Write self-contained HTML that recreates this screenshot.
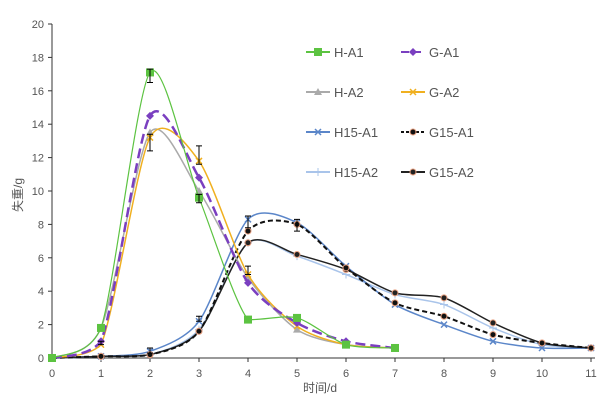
<!DOCTYPE html>
<html><head><meta charset="utf-8"><style>body{margin:0;background:#fff}svg{display:block}text{font-family:"Liberation Sans","Noto Sans CJK SC",sans-serif;font-size:11px;fill:#555}</style></head>
<body>
<svg id="s" width="600" height="400" xmlns="http://www.w3.org/2000/svg">
<g stroke="#333" stroke-width="1">
<line x1="52" y1="24" x2="52" y2="358"/><line x1="52" y1="358" x2="595" y2="358"/>
</g>
<g id="ticks"></g>
<text x="22" y="195" transform="rotate(-90 22 195)" text-anchor="middle" style="font-size:12px">失重/g</text>
<text x="320" y="392" text-anchor="middle" style="font-size:12px">时间/d</text>
<g id="series"></g>
<g id="legend"></g>
</svg>
<script>
const X=v=>52+49*v, Y=v=>358-16.7*v, NS="http://www.w3.org/2000/svg";
function el(t,a,p){const e=document.createElementNS(NS,t);for(const k in a)e.setAttribute(k,a[k]);p.appendChild(e);return e}
const tk=document.getElementById('ticks');
for(let i=0;i<=20;i+=2){el('line',{x1:48,x2:52,y1:Y(i),y2:Y(i),stroke:'#333'},tk);el('text',{x:44,y:Y(i)+4,'text-anchor':'end'},tk).textContent=i}
for(let i=0;i<=11;i++){el('line',{x1:X(i),x2:X(i),y1:358,y2:362,stroke:'#333'},tk);el('text',{x:X(i),y:377,'text-anchor':'middle'},tk).textContent=i}
const S=[
["H15-A2",[0,.1,.2,1.7,6.9,6.1,5.0,3.8,3.2,1.8,.8,.6],"#a9c4ea",1.5,"","plus"],
["H15-A1",[0,.1,.4,2.2,8.3,8.1,5.5,3.2,2.0,1.0,.6,.6],"#5b86c9",1.5,"","x"],
["G15-A2",[0,.1,.2,1.6,6.9,6.2,5.3,3.9,3.6,2.1,.9,.6],"#222",1.5,"","dot"],
["G15-A1",[0,.1,.2,1.6,7.6,8.0,5.4,3.3,2.5,1.4,.9,.6],"#111",2,"5,3","dot"],
["H-A2",[0,1.8,13.5,10.0,4.8,1.7,.8,.6],"#aaa",1.5,"","tri"],
["G-A2",[0,.8,13.2,11.8,5.0,1.9,.8,.6],"#f0b020",1.5,"","x"],
["G-A1",[0,1.0,14.5,10.8,4.5,2.1,1.0,.6],"#7a3fc0",2.5,"10,5","dia"],
["H-A1",[0,1.8,17.1,9.6,2.3,2.4,.8,.6],"#5cc341",1.2,"","sq"]];
const g=document.getElementById('series');
function path(p){let d=`M${p[0][0]},${p[0][1]}`;for(let i=0;i<p.length-1;i++){const a=p[Math.max(i-1,0)],b=p[i],c=p[i+1],e=p[Math.min(i+2,p.length-1)],t=7.5;
let y1=b[1]+(c[1]-a[1])/t,y2=c[1]-(e[1]-b[1])/t;
const lo=Math.max(b[1],c[1]);y1=Math.min(y1,lo+1);y2=Math.min(y2,lo+1);y1=Math.min(y1,358);y2=Math.min(y2,358);
d+=` C${b[0]+(c[0]-a[0])/t},${y1} ${c[0]-(e[0]-b[0])/t},${y2} ${c[0]},${c[1]}`}return d}
function mk(type,x,y,c,p){if(type=="sq")el('rect',{x:x-4,y:y-4,width:8,height:8,fill:c},p);
else if(type=="tri")el('polygon',{points:`${x},${y-4} ${x-4},${y+3} ${x+4},${y+3}`,fill:c},p);
else if(type=="dia")el('polygon',{points:`${x},${y-4} ${x+4},${y} ${x},${y+4} ${x-4},${y}`,fill:c},p);
else if(type=="x"){el('path',{d:`M${x-3},${y-3}L${x+3},${y+3}M${x-3},${y+3}L${x+3},${y-3}`,stroke:c,'stroke-width':1.5},p)}
else if(type=="plus"){el('path',{d:`M${x-4},${y}L${x+4},${y}M${x},${y-4}L${x},${y+4}`,stroke:c,'stroke-width':1},p)}
else el('circle',{cx:x,cy:y,r:3,fill:c,stroke:'#e8a080','stroke-width':1},p)}
S.forEach(s=>{const p=s[1].map((v,i)=>[X(i),Y(v)]);el('path',{d:path(p),fill:'none',stroke:s[2],'stroke-width':s[3],'stroke-dasharray':s[4]},g);p.forEach(q=>mk(s[5],q[0],q[1],s[2],g))});
[[2,16.5,17.3],[2,12.4,13.4],[3,11.6,12.7],[3,9.3,9.8],[4,7.8,8.5],[4,5.0,5.5],[5,7.6,8.3],[1,0.8,1.0],[2,0.3,0.6],[3,2.2,2.5]].forEach(e=>{
el('path',{d:`M${X(e[0])},${Y(e[1])}V${Y(e[2])}M${X(e[0])-3},${Y(e[1])}h6M${X(e[0])-3},${Y(e[2])}h6`,stroke:'#000','stroke-width':1,fill:'none'},g)});
const L=document.getElementById('legend');
const lg=[["H-A1","#5cc341","","sq",0,0],["G-A1","#7a3fc0","8,4","dia",1,0],["H-A2","#aaa","","tri",0,1],["G-A2","#f0b020","","x",1,1],["H15-A1","#5b86c9","","x",0,2],["G15-A1","#111","3,2","dot",1,2],["H15-A2","#a9c4ea","","plus",0,3],["G15-A2","#222","","dot",1,3]];
lg.forEach(l=>{const x=306+l[4]*95,y=52+l[5]*40;el('line',{x1:x,x2:x+24,y1:y,y2:y,stroke:l[1],'stroke-width':2,'stroke-dasharray':l[2]},L);mk(l[3],x+12,y,l[1],L);
el('text',{x:x+28,y:y+5,style:'font-size:13px'},L).textContent=l[0]});
</script>
</body></html>
